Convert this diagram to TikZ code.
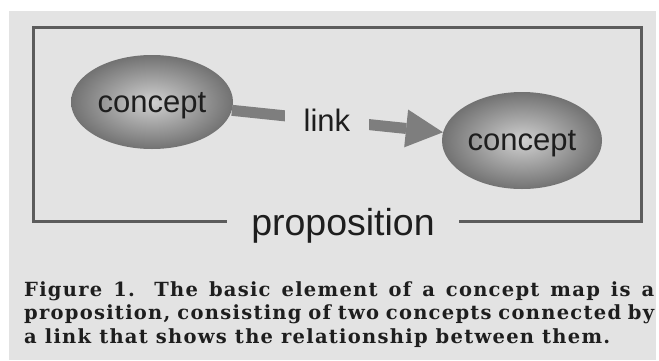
\documentclass[tikz,border=0pt]{standalone}
\usepackage{fontspec}
\setmainfont{Liberation Sans}
\newfontfamily\capfont[LetterSpace=6.5]{DejaVu Serif}
\usetikzlibrary{shapes.geometric,arrows.meta}

\definecolor{paper}{HTML}{E3E3E3}
\definecolor{framegray}{HTML}{5C5C5C}
\definecolor{linkgray}{HTML}{7E7E7E}
\definecolor{ink}{HTML}{1E1E1E}
\definecolor{shadein}{HTML}{D0D0D0}
\definecolor{shadeout}{HTML}{727272}

\tikzstyle{concept}=[ellipse,inner sep=0pt,shading=radial,inner color=shadein,outer color=shadeout,text=ink,text depth=0pt,font=\fontsize{31}{36}\selectfont]
\tikzstyle{linkedge}=[draw=linkgray,line width=11pt,-{Triangle[length=37pt,width=38pt,line width=0pt]}]
\tikzstyle{linklabel}=[fill=paper,inner xsep=19pt,inner ysep=3pt,text=ink,font=\fontsize{31}{36}\selectfont]
\tikzstyle{proplabel}=[fill=paper,inner xsep=24pt,inner ysep=4pt,text=ink,font=\fontsize{37.5}{40}\selectfont]
\tikzstyle{caption}=[align=left,inner sep=0pt,text=ink,font=\capfont\bfseries\fontsize{19.5}{23.5}\selectfont]

\begin{document}
\begin{tikzpicture}[x=1pt,y=-1pt]
    \useasboundingbox (0,0) rectangle (659,360);
    \fill[white] (0,0) rectangle (659,360);
    \fill[paper] (9,11) rectangle (656,360);

    %frame
    \draw[framegray,line width=3pt] (33,27) rectangle (641,221);
    \node[proplabel,anchor=base] (prop) at (343,235) {proposition};

    \foreach \nodename/\x/\y/\w/\h in {
      c1/152/102/162/94,
      c2/522/140.5/160/97}
    {
      \node[concept,minimum width=\w pt,minimum height=\h pt] (\nodename) at (\x,\y) {concept};
    }

    %link
    \path (c1) edge[linkedge] node[linklabel,pos=0.45] {link} (c2);

    %caption
    \node[caption,anchor=north west] (cap) at (24,281) {%
      \makebox[630pt][s]{Figure 1. The basic element of a concept map is a}\\
      \makebox[630pt][s]{proposition, consisting of two concepts connected by}\\
      a link that shows the relationship between them.};
\end{tikzpicture}
\end{document}
